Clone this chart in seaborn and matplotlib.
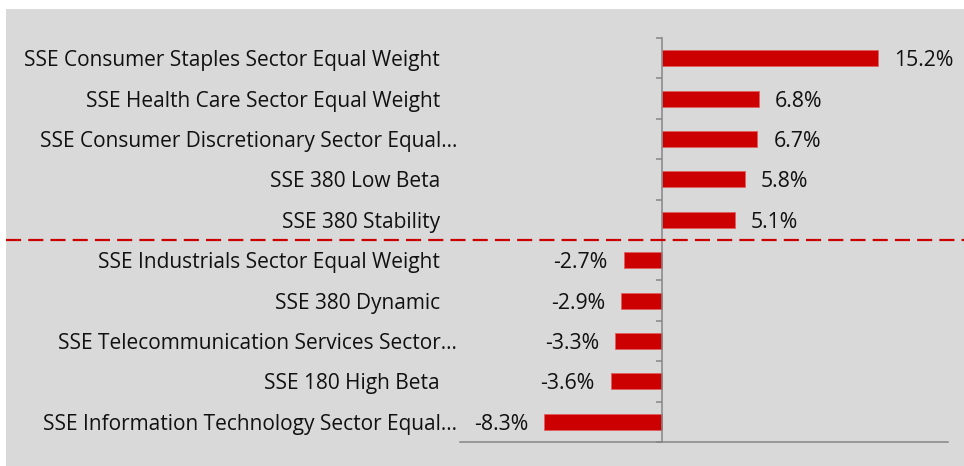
import matplotlib
matplotlib.use("Agg")
import matplotlib.pyplot as plt
import matplotlib.transforms as mtransforms
from matplotlib.lines import Line2D
from matplotlib.patches import Rectangle
import seaborn as sns

# Chart data
categories = [
    "SSE Consumer Staples Sector Equal Weight",
    "SSE Health Care Sector Equal Weight",
    "SSE Consumer Discretionary Sector Equal\u2026",
    "SSE 380 Low Beta",
    "SSE 380 Stability",
    "SSE Industrials Sector Equal Weight",
    "SSE 380 Dynamic",
    "SSE Telecommunication Services Sector\u2026",
    "SSE 180 High Beta",
    "SSE Information Technology Sector Equal\u2026",
]
values = [15.2, 6.8, 6.7, 5.8, 5.1, -2.7, -2.9, -3.3, -3.6, -8.3]
value_labels = ["15.2%", "6.8%", "6.7%", "5.8%", "5.1%",
                "-2.7%", "-2.9%", "-3.3%", "-3.6%", "-8.3%"]

bg = "#d9d9d9"
red = "#cc0000"
axis_grey = "#868686"

sns.set_style("white")
plt.rcParams["font.family"] = ["Open Sans", "DejaVu Sans"]

W, H = 964, 466
fig = plt.figure(figsize=(W / 100, H / 100), dpi=100, facecolor="white")
fig.patches.append(Rectangle((6 / W, 0), 1 - 6 / W, 1 - 9 / H,
                             transform=fig.transFigure, facecolor=bg,
                             edgecolor="none", zorder=-10))

ax = fig.add_axes([460 / W, 1 - 442 / H, (948 - 460) / W, (442 - 38) / H])
ax.set_facecolor("none")

sns.barplot(x=values, y=categories, orient="h", color=red, width=0.4,
            saturation=1, edgecolor="#e06060", linewidth=0.6, ax=ax)

ax.set_xlim(-14.2, 20.1)
ax.set_ylim(9.5, -0.5)

# axes styling
for s in ["top", "right"]:
    ax.spines[s].set_visible(False)
ax.spines["left"].set_position(("data", 0))
for s in ["left", "bottom"]:
    ax.spines[s].set_color(axis_grey)
    ax.spines[s].set_linewidth(1.1)
ax.set_xticks([])
ax.set_yticks([i - 0.5 for i in range(len(categories) + 1)])
ax.set_yticklabels([])
ax.tick_params(axis="y", left=True, direction="out", length=4, width=1.1,
               color=axis_grey)
ax.set_xlabel("")
ax.set_ylabel("")

# category labels on the left
label_tf = mtransforms.blended_transform_factory(fig.transFigure, ax.transData)
for i, name in enumerate(categories):
    xpix = 457 if name.endswith("\u2026") else 440
    ax.text(xpix / W, i, name, transform=label_tf, ha="right",
            va="center_baseline", fontsize=15, color="#111111")

# value labels
for i, (v, lab) in enumerate(zip(values, value_labels)):
    off = 11.5 if v >= 0 else -11.5
    ax.annotate(lab, (v, i), xytext=(off, 0), textcoords="offset points",
                ha="left" if v >= 0 else "right", va="center_baseline",
                fontsize=15.3, color="#111111")

# dashed separator between gainers and losers
fig.add_artist(Line2D([6 / W, 1], [4.5, 4.5], transform=label_tf, color=red,
                      linewidth=1.6, linestyle=(0, (6.8, 3.2)), clip_on=False))

fig.savefig("out.png", dpi=100, facecolor="white")
